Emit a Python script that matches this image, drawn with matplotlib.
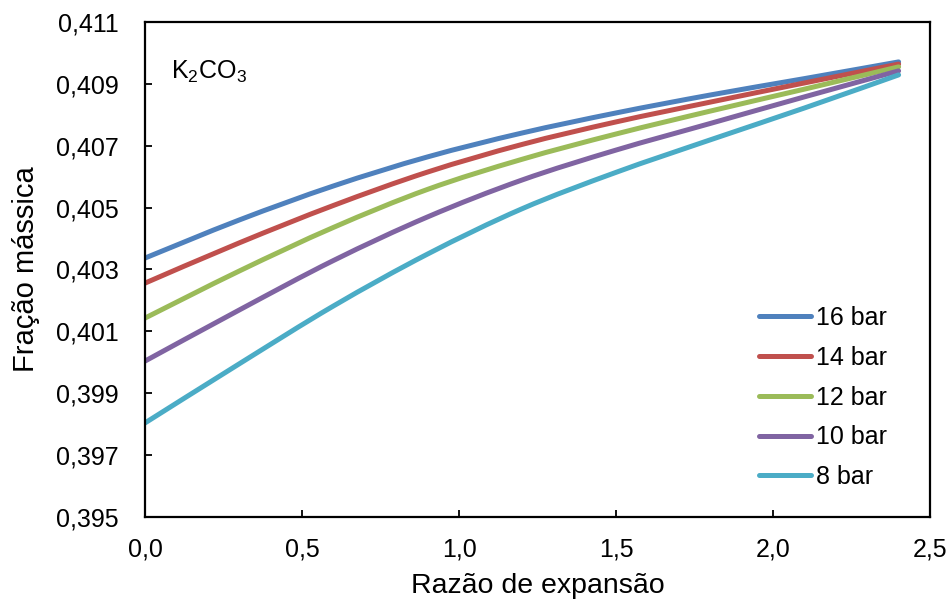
import matplotlib
matplotlib.use("Agg")
import matplotlib.pyplot as plt
import numpy as np
from matplotlib.ticker import FuncFormatter, FixedLocator, MultipleLocator
from matplotlib.path import Path
from matplotlib.patches import PathPatch
from matplotlib.lines import Line2D

plt.rcParams['font.family'] = ['Liberation Sans', 'DejaVu Sans']
plt.rcParams['mathtext.fontset'] = 'custom'
plt.rcParams['mathtext.rm'] = 'Liberation Sans'
plt.rcParams['mathtext.it'] = 'Liberation Sans:italic'

x = [0.0, 0.3, 0.6, 0.9, 1.2, 1.5, 1.8, 2.1, 2.4]
bar16 = [0.40337, 0.40460, 0.40570, 0.40664, 0.40741, 0.40806, 0.40864, 0.40917, 0.40971]
bar14 = [0.40256, 0.40386, 0.40507, 0.40615, 0.40704, 0.40777, 0.40841, 0.40903, 0.40964]
bar12 = [0.40143, 0.40295, 0.40436, 0.40559, 0.40656, 0.40738, 0.40812, 0.40883, 0.40955]
bar10 = [0.40004, 0.40169, 0.40329, 0.40470, 0.40589, 0.40686, 0.40772, 0.40858, 0.40942]
bar8  = [0.39804, 0.39995, 0.40182, 0.40350, 0.40496, 0.40614, 0.40719, 0.40822, 0.40929]

labels = ["16 bar", "14 bar", "12 bar", "10 bar", "8 bar"]
series = [bar16, bar14, bar12, bar10, bar8]
colors = ["#4F81BD", "#C0504D", "#9BBB59", "#8064A2", "#4BACC6"]
yticks = [0.395, 0.397, 0.399, 0.401, 0.403, 0.405, 0.407, 0.409, 0.411]


def smooth_path(xs, ys):
    """Excel-like smoothed line: cubic Bezier segments through the points."""
    P = np.column_stack([xs, ys])
    n = len(P)
    verts = [P[0]]
    codes = [Path.MOVETO]
    for i in range(n - 1):
        p0 = P[i - 1] if i > 0 else P[i]
        p1 = P[i]
        p2 = P[i + 1]
        p3 = P[i + 2] if i + 2 < n else P[i + 1]
        c1 = p1 + (p2 - p0) / 6.0
        c2 = p2 - (p3 - p1) / 6.0
        verts += [c1, c2, p2]
        codes += [Path.CURVE4] * 3
    return Path(verts, codes)


fig = plt.figure(figsize=(9.51, 6.02), dpi=100)
ax = fig.add_axes([145/951, 1-517/602, (930-145)/951, (517-22)/602])

handles = []
for ys, lab, c in zip(series, labels, colors):
    patch = PathPatch(smooth_path(x, ys), facecolor='none', edgecolor=c, lw=3.6,
                      capstyle='round', joinstyle='round')
    ax.add_patch(patch)
    handles.append(Line2D([], [], color=c, lw=3.6, solid_capstyle='round', label=lab))

ax.set_xlim(0, 2.5)
ax.set_ylim(0.395, 0.411)
ax.xaxis.set_major_locator(MultipleLocator(0.5))
ax.yaxis.set_major_locator(FixedLocator(yticks))
ax.xaxis.set_major_formatter(FuncFormatter(lambda v, p: f"{v:.1f}".replace('.', ',')))
ax.yaxis.set_major_formatter(FuncFormatter(lambda v, p: f"{v:.3f}".replace('.', ',')))
ax.tick_params(axis='both', direction='in', length=5, width=1.3, labelsize=18)
ax.tick_params(axis='y', pad=19)
ax.tick_params(axis='x', pad=15)
for s in ax.spines.values():
    s.set_linewidth(1.6)

ax.set_xlabel("Razão de expansão", fontsize=20.5, labelpad=8)
ax.set_ylabel("Fração mássica", fontsize=21, labelpad=11)

ax.text(0.033, 0.9, r"$\mathrm{K_2CO_3}$", transform=ax.transAxes, fontsize=18,
        ha='left', va='center')

leg = ax.legend(handles=handles, loc='lower right', bbox_to_anchor=(0.958, 0.036),
                frameon=False, fontsize=18, handlelength=2.1, handletextpad=0.2,
                labelspacing=0.63, borderaxespad=0.0)

fig.savefig("out.png", dpi=100)
